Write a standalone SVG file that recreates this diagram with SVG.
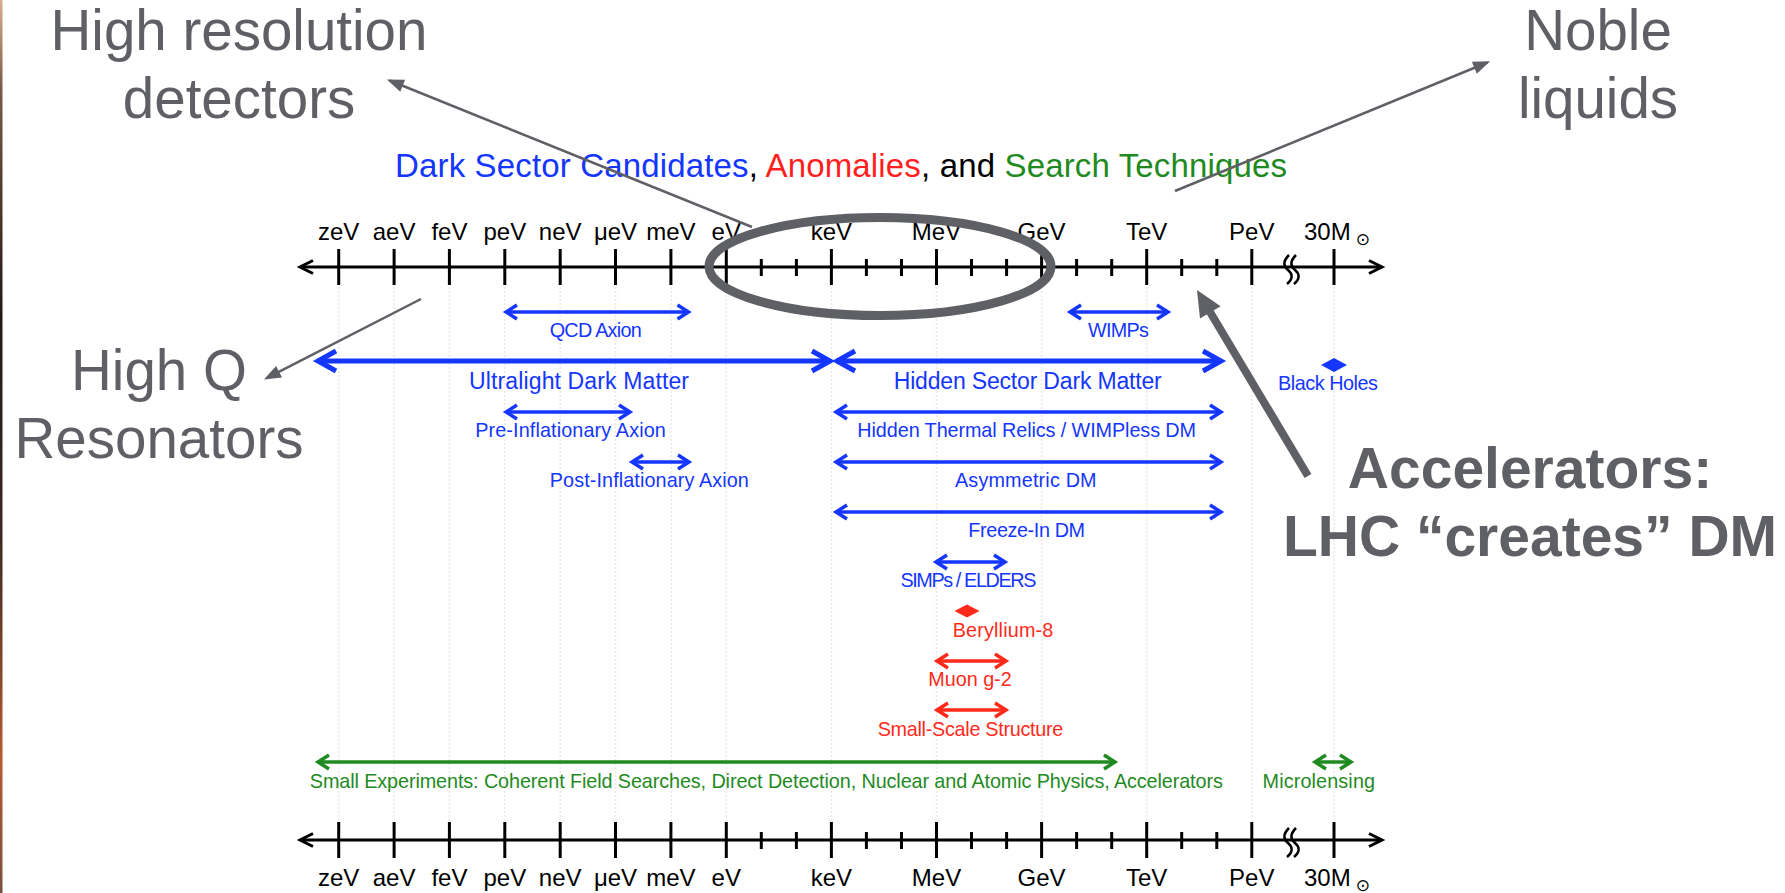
<svg xmlns="http://www.w3.org/2000/svg" width="1785" height="893" viewBox="0 0 1785 893">
<style>
  .ax{stroke:#000;stroke-width:3;fill:none}
  .tk{stroke:#000;stroke-width:3}
  .grid{stroke:#e8e8e8;stroke-width:1.5;stroke-dasharray:2 2}
  .tl{font-family:"Liberation Sans",Arial,sans-serif;font-size:24px;fill:#000;text-anchor:middle}
  .sun{font-family:"DejaVu Sans",sans-serif;font-size:17px}
  .lbl{font-family:"Liberation Sans",Arial,sans-serif;font-size:19.8px;text-anchor:middle}
  .big{font-size:23px}
  .blue{fill:#1436ff}
  .red{fill:#ff2a1a}
  .green{fill:#1f8a1f}
  .bl{stroke:#1436ff;stroke-width:3.5;marker-start:url(#hb);marker-end:url(#hb)}
  .blT{stroke:#1436ff;stroke-width:5;marker-start:url(#hbT);marker-end:url(#hbT)}
  .rl{stroke:#ff2a1a;stroke-width:3.5;marker-start:url(#hr);marker-end:url(#hr)}
  .gl{stroke:#1f8a1f;stroke-width:3.5;marker-start:url(#hg);marker-end:url(#hg)}
  .ann{font-family:"Liberation Sans",Arial,sans-serif;font-size:56.5px;fill:#5f6065;text-anchor:middle}
  .annB{font-family:"Liberation Sans",Arial,sans-serif;font-size:57px;font-weight:bold;fill:#5f6065;text-anchor:middle}
  .con{stroke:#5f6065;stroke-width:2.5;fill:none;marker-end:url(#ga)}
  .title{font-family:"Liberation Sans",Arial,sans-serif;font-size:33px}
</style>
<defs>
  <linearGradient id="edge" x1="0" y1="0" x2="0" y2="1">
    <stop offset="0" stop-color="#d8b090"/>
    <stop offset="0.1" stop-color="#7a5a45"/>
    <stop offset="0.35" stop-color="#231a16"/>
    <stop offset="0.6" stop-color="#3a2a22"/>
    <stop offset="0.85" stop-color="#b85a30"/>
    <stop offset="1" stop-color="#7a5040"/>
  </linearGradient>
  <marker id="hb" markerUnits="userSpaceOnUse" viewBox="-16 -10 22 20" refX="0" refY="0" markerWidth="22" markerHeight="20" orient="auto-start-reverse">
    <path d="M-11,-7 L0,0 L-11,7" fill="none" stroke="#1436ff" stroke-width="3.5"/>
  </marker>
  <marker id="hbT" markerUnits="userSpaceOnUse" viewBox="-24 -14 32 28" refX="0" refY="0" markerWidth="32" markerHeight="28" orient="auto-start-reverse">
    <path d="M-18,-10 L0,0 L-18,10" fill="none" stroke="#1436ff" stroke-width="5"/>
  </marker>
  <marker id="hr" markerUnits="userSpaceOnUse" viewBox="-16 -10 22 20" refX="0" refY="0" markerWidth="22" markerHeight="20" orient="auto-start-reverse">
    <path d="M-11,-7 L0,0 L-11,7" fill="none" stroke="#ff2a1a" stroke-width="3.5"/>
  </marker>
  <marker id="hg" markerUnits="userSpaceOnUse" viewBox="-16 -10 22 20" refX="0" refY="0" markerWidth="22" markerHeight="20" orient="auto-start-reverse">
    <path d="M-11,-7 L0,0 L-11,7" fill="none" stroke="#1f8a1f" stroke-width="3.5"/>
  </marker>
  <marker id="hk" markerUnits="userSpaceOnUse" viewBox="-18 -10 24 20" refX="0" refY="0" markerWidth="24" markerHeight="20" orient="auto-start-reverse">
    <path d="M-13,-6.5 L0,0 L-13,6.5" fill="none" stroke="#000" stroke-width="3"/>
  </marker>
  <marker id="ga" markerUnits="userSpaceOnUse" viewBox="-16 -8 22 16" refX="0" refY="0" markerWidth="22" markerHeight="16" orient="auto">
    <path d="M-14,-6.5 L3,0 L-14,6.5 Z" fill="#5f6065"/>
  </marker>
  <path id="brk" d="M0,-13 C-6,-7 -6,-2 -1,2 C4,6 4,11 -2,16" fill="none" stroke="#000" stroke-width="2.5"/>
</defs>

<rect width="1785" height="893" fill="#fff"/>
<rect x="0" y="0" width="2.5" height="893" fill="url(#edge)"/>

<!-- grid -->
<g id="grid" class="grid">
  <line x1="338.7" y1="287" x2="338.7" y2="821"/>
  <line x1="394.1" y1="287" x2="394.1" y2="821"/>
  <line x1="449.4" y1="287" x2="449.4" y2="821"/>
  <line x1="504.8" y1="287" x2="504.8" y2="821"/>
  <line x1="560.2" y1="287" x2="560.2" y2="821"/>
  <line x1="615.5" y1="287" x2="615.5" y2="821"/>
  <line x1="670.9" y1="287" x2="670.9" y2="821"/>
  <line x1="726.3" y1="287" x2="726.3" y2="821"/>
  <line x1="831.4" y1="287" x2="831.4" y2="821"/>
  <line x1="936.5" y1="287" x2="936.5" y2="821"/>
  <line x1="1041.6" y1="287" x2="1041.6" y2="821"/>
  <line x1="1146.7" y1="287" x2="1146.7" y2="821"/>
  <line x1="1251.8" y1="287" x2="1251.8" y2="821"/>
  <line x1="1334" y1="287" x2="1334" y2="821"/>
</g>

<!-- title -->
<g id="title">
  <text class="title" x="395" y="177" textLength="892"><tspan fill="#1436ff">Dark Sector Candidates</tspan><tspan fill="#000">, </tspan><tspan fill="#ff1f1f">Anomalies</tspan><tspan fill="#000">, and </tspan><tspan fill="#1f8a1f">Search Techniques</tspan></text>
</g>

<!-- top axis -->
<g id="axis-top">
  <line class="ax" x1="300" y1="267" x2="1382" y2="267" marker-start="url(#hk)" marker-end="url(#hk)"/>
  <g class="tk">
    <line x1="338.7" y1="249" x2="338.7" y2="285"/>
    <line x1="394.1" y1="249" x2="394.1" y2="285"/>
    <line x1="449.4" y1="249" x2="449.4" y2="285"/>
    <line x1="504.8" y1="249" x2="504.8" y2="285"/>
    <line x1="560.2" y1="249" x2="560.2" y2="285"/>
    <line x1="615.5" y1="249" x2="615.5" y2="285"/>
    <line x1="670.9" y1="249" x2="670.9" y2="285"/>
    <line x1="726.3" y1="249" x2="726.3" y2="285"/>
    <line x1="831.4" y1="249" x2="831.4" y2="285"/>
    <line x1="936.5" y1="249" x2="936.5" y2="285"/>
    <line x1="1041.6" y1="249" x2="1041.6" y2="285"/>
    <line x1="1146.7" y1="249" x2="1146.7" y2="285"/>
    <line x1="1251.8" y1="249" x2="1251.8" y2="285"/>
    <line x1="1334" y1="249" x2="1334" y2="285"/>
    <line x1="761.3" y1="259" x2="761.3" y2="276"/>
    <line x1="796.4" y1="259" x2="796.4" y2="276"/>
    <line x1="866.4" y1="259" x2="866.4" y2="276"/>
    <line x1="901.5" y1="259" x2="901.5" y2="276"/>
    <line x1="971.5" y1="259" x2="971.5" y2="276"/>
    <line x1="1006.6" y1="259" x2="1006.6" y2="276"/>
    <line x1="1076.6" y1="259" x2="1076.6" y2="276"/>
    <line x1="1111.7" y1="259" x2="1111.7" y2="276"/>
    <line x1="1181.7" y1="259" x2="1181.7" y2="276"/>
    <line x1="1216.8" y1="259" x2="1216.8" y2="276"/>
  </g>
  <use href="#brk" x="1289" y="268"/>
  <use href="#brk" x="1296" y="268"/>
  <text class="tl" x="338.7" y="240">zeV</text>
  <text class="tl" x="394.1" y="240">aeV</text>
  <text class="tl" x="449.4" y="240">feV</text>
  <text class="tl" x="504.8" y="240">peV</text>
  <text class="tl" x="560.2" y="240">neV</text>
  <text class="tl" x="615.5" y="240">μeV</text>
  <text class="tl" x="670.9" y="240">meV</text>
  <text class="tl" x="726.3" y="240">eV</text>
  <text class="tl" x="831.4" y="240">keV</text>
  <text class="tl" x="936.5" y="240">MeV</text>
  <text class="tl" x="1041.6" y="240">GeV</text>
  <text class="tl" x="1146.7" y="240">TeV</text>
  <text class="tl" x="1251.8" y="240">PeV</text>
  <text class="tl" x="1304" y="240" style="text-anchor:start">30M<tspan class="sun" dx="5" dy="5">⊙</tspan></text>
</g>

<!-- bottom axis -->
<g id="axis-bottom">
  <line class="ax" x1="300" y1="840" x2="1382" y2="840" marker-start="url(#hk)" marker-end="url(#hk)"/>
  <g class="tk">
    <line x1="338.7" y1="822" x2="338.7" y2="858"/>
    <line x1="394.1" y1="822" x2="394.1" y2="858"/>
    <line x1="449.4" y1="822" x2="449.4" y2="858"/>
    <line x1="504.8" y1="822" x2="504.8" y2="858"/>
    <line x1="560.2" y1="822" x2="560.2" y2="858"/>
    <line x1="615.5" y1="822" x2="615.5" y2="858"/>
    <line x1="670.9" y1="822" x2="670.9" y2="858"/>
    <line x1="726.3" y1="822" x2="726.3" y2="858"/>
    <line x1="831.4" y1="822" x2="831.4" y2="858"/>
    <line x1="936.5" y1="822" x2="936.5" y2="858"/>
    <line x1="1041.6" y1="822" x2="1041.6" y2="858"/>
    <line x1="1146.7" y1="822" x2="1146.7" y2="858"/>
    <line x1="1251.8" y1="822" x2="1251.8" y2="858"/>
    <line x1="1334" y1="822" x2="1334" y2="858"/>
    <line x1="761.3" y1="832" x2="761.3" y2="849"/>
    <line x1="796.4" y1="832" x2="796.4" y2="849"/>
    <line x1="866.4" y1="832" x2="866.4" y2="849"/>
    <line x1="901.5" y1="832" x2="901.5" y2="849"/>
    <line x1="971.5" y1="832" x2="971.5" y2="849"/>
    <line x1="1006.6" y1="832" x2="1006.6" y2="849"/>
    <line x1="1076.6" y1="832" x2="1076.6" y2="849"/>
    <line x1="1111.7" y1="832" x2="1111.7" y2="849"/>
    <line x1="1181.7" y1="832" x2="1181.7" y2="849"/>
    <line x1="1216.8" y1="832" x2="1216.8" y2="849"/>
  </g>
  <use href="#brk" x="1289" y="841"/>
  <use href="#brk" x="1296" y="841"/>
  <text class="tl" x="338.7" y="886">zeV</text>
  <text class="tl" x="394.1" y="886">aeV</text>
  <text class="tl" x="449.4" y="886">feV</text>
  <text class="tl" x="504.8" y="886">peV</text>
  <text class="tl" x="560.2" y="886">neV</text>
  <text class="tl" x="615.5" y="886">μeV</text>
  <text class="tl" x="670.9" y="886">meV</text>
  <text class="tl" x="726.3" y="886">eV</text>
  <text class="tl" x="831.4" y="886">keV</text>
  <text class="tl" x="936.5" y="886">MeV</text>
  <text class="tl" x="1041.6" y="886">GeV</text>
  <text class="tl" x="1146.7" y="886">TeV</text>
  <text class="tl" x="1251.8" y="886">PeV</text>
  <text class="tl" x="1304" y="886" style="text-anchor:start">30M<tspan class="sun" dx="5" dy="5">⊙</tspan></text>
</g>

<!-- candidate ranges -->
<g id="qcd-axion"><line class="bl" x1="506" y1="312" x2="688.5" y2="312"/><text class="lbl blue" x="595.7" y="336.7" textLength="92">QCD Axion</text></g>
<g id="wimps"><line class="bl" x1="1070" y1="312" x2="1168" y2="312"/><text class="lbl blue" x="1118.4" y="336.7" textLength="61">WIMPs</text></g>
<g id="ultralight"><line class="blT" x1="318" y1="361" x2="830" y2="361"/><text class="lbl big blue" x="579" y="389" textLength="220">Ultralight Dark Matter</text></g>
<g id="hidden-sector"><line class="blT" x1="837" y1="361" x2="1221" y2="361"/><text class="lbl big blue" x="1027.7" y="389" textLength="268">Hidden Sector Dark Matter</text></g>
<g id="black-holes"><polygon points="1321,365 1334,358 1347,365 1334,372" fill="#1436ff"/><text class="lbl blue" x="1328" y="390" textLength="100">Black Holes</text></g>
<g id="pre-inflationary"><line class="bl" x1="506" y1="412" x2="630" y2="412"/><text class="lbl blue" x="570.5" y="436.7" textLength="190.6">Pre-Inflationary Axion</text></g>
<g id="hidden-thermal"><line class="bl" x1="836" y1="412" x2="1221" y2="412"/><text class="lbl blue" x="1026.7" y="436.7" textLength="338.7">Hidden Thermal Relics / WIMPless DM</text></g>
<g id="post-inflationary"><line class="bl" x1="632" y1="462" x2="689" y2="462"/><text class="lbl blue" x="649.3" y="486.7" textLength="199">Post-Inflationary Axion</text></g>
<g id="asymmetric"><line class="bl" x1="836" y1="462" x2="1221" y2="462"/><text class="lbl blue" x="1025.8" y="486.7" textLength="141.6">Asymmetric DM</text></g>
<g id="freeze-in"><line class="bl" x1="836" y1="512" x2="1221" y2="512"/><text class="lbl blue" x="1026.7" y="536.7" textLength="116.7">Freeze-In DM</text></g>
<g id="simps"><line class="bl" x1="936" y1="562" x2="1005" y2="562"/><text class="lbl blue" x="968.4" y="586.7" textLength="136">SIMPs / ELDERS</text></g>

<!-- anomalies -->
<g id="beryllium"><polygon points="954.5,611 967,604.5 979.5,611 967,617.5" fill="#ff2a1a"/><text class="lbl red" x="1003" y="636.7" textLength="100.7">Beryllium-8</text></g>
<g id="muon"><line class="rl" x1="937" y1="661" x2="1006" y2="661"/><text class="lbl red" x="970" y="686" textLength="83.3">Muon g-2</text></g>
<g id="small-scale"><line class="rl" x1="937" y1="710" x2="1006" y2="710"/><text class="lbl red" x="970.5" y="736" textLength="185.7">Small-Scale Structure</text></g>

<!-- search techniques -->
<g id="small-experiments"><line class="gl" x1="318" y1="762" x2="1115" y2="762"/><text class="lbl green" x="766.3" y="788.3" textLength="913">Small Experiments: Coherent Field Searches, Direct Detection, Nuclear and Atomic Physics, Accelerators</text></g>
<g id="microlensing"><line class="gl" x1="1315" y1="762" x2="1351" y2="762"/><text class="lbl green" x="1318.8" y="788.3" textLength="112.5">Microlensing</text></g>

<!-- highlight ellipse -->
<g id="highlight"><ellipse cx="880" cy="266.5" rx="171" ry="49" fill="none" stroke="#5f6065" stroke-width="9"/></g>

<!-- annotations -->
<g id="high-resolution"><text class="ann" x="239" y="50">High resolution</text><text class="ann" x="239" y="118">detectors</text></g>
<g id="noble-liquids"><text class="ann" x="1598" y="50">Noble</text><text class="ann" x="1598" y="118">liquids</text></g>
<g id="high-q"><text class="ann" x="159" y="390">High Q</text><text class="ann" x="159" y="458">Resonators</text></g>
<g id="accelerators"><text class="annB" x="1530" y="488">Accelerators:</text><text class="annB" x="1530" y="556">LHC “creates” DM</text></g>

<!-- connectors -->
<g id="connectors">
  <line class="con" x1="752" y1="227" x2="389.7" y2="80.5"/>
  <line class="con" x1="1175" y1="191" x2="1487.3" y2="62.5"/>
  <line class="con" x1="421" y1="299" x2="266.6" y2="378.2"/>
  <line x1="1308" y1="476" x2="1207.2" y2="307.2" stroke="#5f6065" stroke-width="8"/>
  <polygon points="1197,290 1220.6,306.2 1200,318.4" fill="#5f6065"/>
</g>
</svg>
